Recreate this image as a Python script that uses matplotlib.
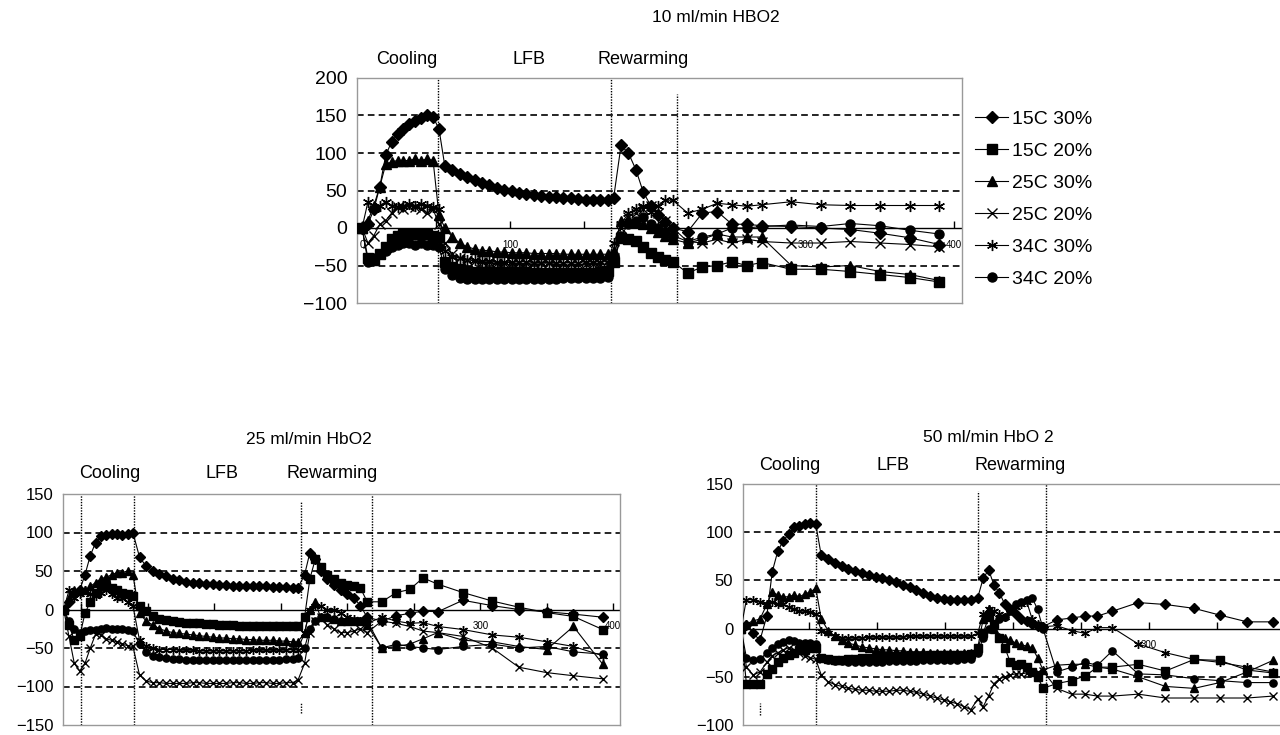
import matplotlib.pyplot as plt
from matplotlib.transforms import blended_transform_factory

plt.rcParams['font.family'] = ['Liberation Sans', 'DejaVu Sans']

labels = ['15C 30%', '15C 20%', '25C 30%', '25C 20%', '34C 30%', '34C 20%']

# ---- 10 ml/min HBO2 (top) : time points, then one list per group
t10 = [0, 4, 8, 12, 16, 20, 24, 28, 32, 36, 40, 44, 48, 52,
       56, 61, 66, 71, 76, 81, 86, 91, 96, 101, 106, 111, 116, 121, 126, 131, 136, 141, 146, 151, 156, 161, 166,
       170, 175, 180, 185, 190, 195, 200, 205, 210,
       220, 230, 240, 250, 260, 270, 290, 310, 330, 350, 370, 390]
s10_15c30 = [0, 5, 25, 55, 97, 115, 125, 132, 138, 142, 146, 150, 148, 132,
             82, 77, 72, 68, 64, 60, 57, 54, 51, 49, 47, 45, 44, 43, 42, 41, 40, 40, 39, 38, 38, 37, 37,
             40, 110, 100, 78, 48, 30, 18, 8, 0,
             -5, 20, 22, 5, 5, 3, 2, 0, -2, -7, -13, -22]
s10_15c20 = [0, -40, -42, -35, -25, -15, -10, -8, -8, -8, -8, -8, -10, -12,
             -45, -52, -55, -57, -58, -58, -58, -58, -59, -59, -59, -59, -60, -60, -60, -60, -60, -60, -60, -60, -60, -58, -57,
             -45, -13, -15, -17, -25, -33, -38, -42, -45,
             -60, -52, -50, -45, -50, -46, -55, -55, -58, -62, -66, -72]
s10_25c30 = [0, 10, 30, 55, 85, 88, 90, 90, 90, 92, 90, 92, 90, 17,
             0, -12, -20, -25, -28, -30, -30, -32, -32, -33, -33, -33, -34, -34, -34, -34, -35, -35, -35, -35, -35, -35, -35,
             -30, 10, 12, 8, 5, 0, -5, -10, -15,
             -20, -15, -8, -12, -12, -12, -50, -52, -50, -58, -62, -70]
s10_25c20 = [0, -20, -10, 5, 10, 20, 28, 25, 30, 28, 25, 20, 25, 5,
             -20, -35, -40, -42, -44, -45, -45, -46, -46, -46, -47, -47, -47, -47, -47, -48, -48, -48, -48, -48, -48, -48, -48,
             -40, 0, 15, 20, 25, 30, 20, 10, 0,
             -18, -20, -15, -20, -15, -18, -20, -20, -18, -20, -22, -25]
s10_34c30 = [0, 35, 25, 30, 35, 30, 28, 30, 32, 30, 32, 30, 28, 25,
             -30, -38, -40, -42, -43, -44, -44, -45, -45, -45, -45, -45, -46, -46, -46, -46, -46, -46, -46, -45, -45, -45, -45,
             -20, 5, 20, 25, 30, 22, 30, 37, 37,
             20, 25, 33, 31, 29, 31, 35, 31, 30, 30, 30, 30]
s10_34c20 = [0, -45, -40, -35, -30, -25, -22, -20, -20, -22, -20, -22, -22, -25,
             -55, -62, -66, -68, -68, -68, -68, -68, -68, -68, -68, -68, -68, -68, -68, -68, -67, -67, -67, -67, -66, -66, -65,
             -45, -10, 5, 10, 15, 5, 0, -5, -10,
             -18, -12, -8, 0, 0, 2, 4, 2, 6, 3, -3, -8]

# ---- 25 ml/min HbO2 (bottom left)
t25 = [-13, -9, -5, -1, 3, 7, 11, 15, 19, 23, 27, 31, 35, 39,
       44, 49, 54, 59, 64, 69, 74, 79, 84, 89, 94, 99, 104, 109, 114, 119, 124, 129, 134, 139, 144, 149, 154, 159, 163,
       168, 172, 176, 180, 185, 190, 195, 200, 205, 210, 215,
       226, 237, 247, 257, 268, 287, 309, 329, 350, 370, 392]
s25_15c30 = [0, 10, 20, 25, 45, 70, 87, 95, 97, 98, 98, 97, 98, 100,
             68, 56, 50, 46, 43, 40, 38, 36, 35, 34, 33, 33, 32, 32, 31, 31, 30, 30, 30, 30, 29, 29, 29, 28, 28,
             45, 74, 65, 50, 40, 32, 25, 20, 15, 5, -10,
             -15, -8, -5, -2, -3, 12, 5, 0, -3, -6, -10]
s25_15c20 = [0, -20, -40, -35, -5, 10, 22, 30, 30, 28, 25, 22, 20, 18,
             5, -2, -8, -12, -14, -15, -16, -17, -18, -18, -19, -19, -20, -20, -20, -21, -21, -21, -21, -22, -22, -22, -22, -22, -22,
             -10, 40, 65, 55, 45, 40, 35, 32, 30, 28, 10,
             10, 22, 26, 41, 33, 22, 11, 3, -4, -9, -26]
s25_25c30 = [0, 15, 25, 25, 25, 30, 35, 40, 42, 45, 48, 48, 50, 45,
             -5, -15, -20, -25, -28, -30, -31, -32, -33, -34, -35, -36, -37, -37, -38, -38, -39, -39, -40, -40, -40, -41, -41, -42, -42,
             -30, 0, 10, -10, -10, -12, -15, -15, -15, -15, -20,
             -50, -48, -45, -38, -30, -40, -42, -48, -52, -22, -71]
s25_25c20 = [0, -35, -70, -80, -70, -50, -32, -33, -38, -40, -42, -45, -47, -48,
             -85, -93, -95, -95, -96, -96, -96, -96, -95, -95, -96, -96, -96, -96, -95, -95, -96, -96, -95, -95, -96, -96, -95, -95, -92,
             -70, -30, -15, -10, -20, -25, -30, -30, -28, -25, -30,
             -15, -18, -22, -28, -30, -35, -50, -75, -82, -86, -90]
s25_34c30 = [0, 25, 15, 20, 25, 20, 18, 22, 25, 20, 15, 15, 10, 5,
             -40, -48, -50, -52, -52, -52, -53, -53, -53, -54, -54, -54, -54, -54, -54, -54, -54, -53, -53, -53, -53, -53, -53, -52, -52,
             -30, 0, 5, 5, 0, 0, -5, -10, -12, -15, -18,
             -10, -15, -18, -17, -22, -26, -33, -36, -42, -48, -60]
s25_34c20 = [0, -15, -25, -30, -28, -27, -27, -25, -24, -25, -25, -25, -27, -28,
             -45, -55, -60, -62, -63, -64, -64, -65, -65, -65, -65, -65, -65, -65, -65, -65, -65, -65, -65, -65, -65, -65, -64, -64, -63,
             -50, -25, -15, -10, -10, -12, -15, -15, -15, -15, -15,
             -50, -45, -48, -50, -52, -48, -45, -50, -48, -55, -58]

# ---- 50 ml/min HbO 2 (bottom right)
t50 = [0, 4, 9, 14, 19, 23, 27, 31, 35, 39, 43, 47, 51, 55,
       59, 64, 69, 74, 79, 84, 89, 94, 99, 104, 109, 114, 119, 124, 129, 134, 139, 144, 149, 154, 159, 164, 169,
       174, 178, 182, 186, 190, 194, 198, 202, 206, 210, 214, 218, 222,
       232, 243, 253, 262, 273, 292, 312, 333, 352, 372, 391]
s50_15c30 = [0, 4, -5, -12, 13, 59, 80, 91, 98, 105, 106, 108, 110, 108,
             76, 72, 68, 65, 62, 60, 58, 56, 54, 52, 50, 48, 45, 43, 40, 37, 34, 32, 31, 30, 30, 30, 30,
             32, 52, 61, 45, 37, 25, 20, 15, 10, 8, 5, 3, 2,
             9, 11, 13, 13, 18, 27, 25, 21, 14, 7, 7]
s50_15c20 = [0, -57, -57, -57, -47, -42, -35, -30, -27, -25, -22, -22, -20, -20,
             -30, -32, -33, -33, -32, -32, -31, -30, -30, -29, -29, -28, -28, -28, -28, -28, -27, -27, -27, -27, -27, -27, -26,
             -20, -5, 12, 5, -10, -20, -35, -38, -37, -40, -45, -50, -62,
             -57, -54, -49, -40, -40, -37, -44, -32, -33, -43, -46]
s50_25c30 = [0, 5, 8, 10, 25, 38, 35, 33, 33, 35, 33, 36, 38, 42,
             10, -2, -8, -12, -15, -17, -19, -20, -21, -22, -22, -23, -23, -24, -24, -24, -25, -25, -25, -25, -25, -25, -25,
             -20, 10, 20, 0, -9, -10, -12, -15, -17, -18, -20, -30, -43,
             -38, -37, -37, -40, -42, -50, -60, -62, -56, -45, -33]
s50_25c20 = [0, -40, -48, -45, -35, -28, -25, -22, -20, -22, -25, -28, -30, -32,
             -48, -55, -58, -60, -62, -63, -64, -64, -65, -65, -65, -64, -64, -65, -66, -68, -70, -72, -74, -76, -78, -81, -84,
             -73, -81, -70, -57, -52, -50, -48, -47, -47, -46, -46, -45, -44,
             -62, -68, -68, -70, -70, -68, -72, -72, -72, -72, -70]
s50_34c30 = [0, 30, 30, 28, 25, 28, 25, 25, 22, 20, 18, 18, 17, 15,
             -2, -5, -8, -10, -10, -10, -10, -9, -9, -9, -9, -9, -9, -8, -8, -8, -8, -8, -8, -8, -8, -8, -8,
             -5, 15, 20, 18, 15, 12, 20, 22, 25, 28, 10, 5, 2,
             3, -2, -5, 1, 1, -16, -25, -32, -35, -40, -45]
s50_34c20 = [0, -30, -33, -32, -25, -20, -16, -14, -12, -13, -15, -15, -15, -16,
             -30, -33, -34, -34, -35, -35, -35, -35, -35, -35, -34, -34, -34, -34, -34, -33, -33, -33, -33, -33, -33, -32, -32,
             -25, -10, 0, 5, 10, 12, 18, 25, 28, 30, 32, 20, 0,
             -45, -40, -35, -38, -23, -47, -48, -52, -54, -56, -56]

markers = [('D', 6.5), ('s', 6.5), ('^', 7.5), ('x', 6.5), ((6, 2, 0), 8), ('o', 6.5)]

fig = plt.figure(figsize=(12.8, 7.35), dpi=100)


def panel(rect, t, series, xlim, ylim, yticks, grid_y, vlines, phase_x, phase_y,
          title, title_x, title_y, xt, xt_lab, ms_scale, fs):
    ax = fig.add_axes(rect)
    ax.set_xlim(xlim)
    ax.set_ylim(ylim)
    for y in grid_y:
        ax.axhline(y, color='black', lw=1.2, ls=(0, (4, 2.5)), zorder=1)
    ax.axhline(0, color='black', lw=1, zorder=1)
    for x, y0, y1 in vlines:
        ax.axvline(x, ymin=y0, ymax=y1, color='black', lw=1, ls=(0, (1, 1)), zorder=1)
    # x-axis crosses at zero: tick marks + small labels under the line
    ax.plot(xt, [0] * len(xt), ls='none', marker=2, ms=5, mew=1, color='black', zorder=1)
    for x in xt_lab:
        ax.annotate(str(x), (x, 0), xytext=(0, -12), textcoords='offset points',
                    ha='center', va='center', fontsize=7, zorder=1)
    lines = []
    for vals, (m, ms) in zip(series, markers):
        ln, = ax.plot(t, vals, color='black', lw=0.8, marker=m, ms=ms * ms_scale,
                      mfc='black', mec='black', mew=1, zorder=3)
        lines.append(ln)
    ax.set_xticks([])
    ax.set_yticks(yticks)
    ax.tick_params(axis='y', length=0, labelsize=fs, pad=7)
    for s in ax.spines.values():
        s.set_color('0.6')
        s.set_linewidth(1)
    tr = blended_transform_factory(ax.transData, ax.transAxes)
    for x, txt in zip(phase_x, ['Cooling', 'LFB', 'Rewarming']):
        ax.text(x, phase_y, txt, transform=tr, ha='center', va='center', fontsize=13)
    ax.text(title_x, title_y, title, transform=tr, ha='center', va='center', fontsize=12.5)
    return lines


handles = panel([357 / 1280, 1 - 303 / 735, 605 / 1280, 225 / 735], t10,
                [s10_15c30, s10_15c20, s10_25c30, s10_25c20, s10_34c30, s10_34c20],
                (-3.4, 405.4), (-100, 200), [-100, -50, 0, 50, 100, 150, 200], [150, 100, 50, -50],
                [(51, 0, 1), (168, 0, 1), (213, 0, 0.93)], [30, 113, 190], 1.08,
                '10 ml/min HBO2', 239, 1.267,
                [0, 50, 100, 150, 200, 250, 300, 350, 400], [0, 100, 300, 400], 1.0, 14)

panel([63 / 1280, 1 - 725 / 735, 557 / 1280, 231 / 735], t25,
      [s25_15c30, s25_15c20, s25_25c30, s25_25c20, s25_34c30, s25_34c20],
      (-13.5, 405), (-150, 150), [-150, -100, -50, 0, 50, 100, 150], [100, 50, -50, -100],
      [(0, 0, 1), (40, 0, 1), (165, 0.05, 0.1), (165, 0.55, 0.97), (219, 0, 1)], [22, 106, 189], 1.087,
      '25 ml/min HbO2', 171, 1.234,
      [0, 50, 100, 150, 200, 250, 300, 350, 400], [300, 400], 0.8, 12)

panel([743 / 1280, 1 - 725 / 735, 549 / 1280, 241 / 735], t50,
      [s50_15c30, s50_15c20, s50_25c30, s50_25c20, s50_34c30, s50_34c20],
      (1.5, 405), (-100, 150), [-100, -50, 0, 50, 100, 150], [150, 100, 50, -50],
      [(14, 0.04, 0.09), (55, 0, 1), (174, 0.6, 0.97), (224, 0, 1)], [36, 112, 205], 1.075,
      '50 ml/min HbO 2', 182, 1.195,
      [50, 100, 150, 200, 250, 300, 350, 400], [300], 0.8, 12)

fig.legend(handles, labels, loc='upper left', bbox_to_anchor=(975 / 1280, 1 - 110 / 735),
           frameon=False, fontsize=14, handlelength=1.7, handletextpad=0.2,
           labelspacing=0.74, borderpad=0, borderaxespad=0)

fig.savefig('out.png', dpi=100)
